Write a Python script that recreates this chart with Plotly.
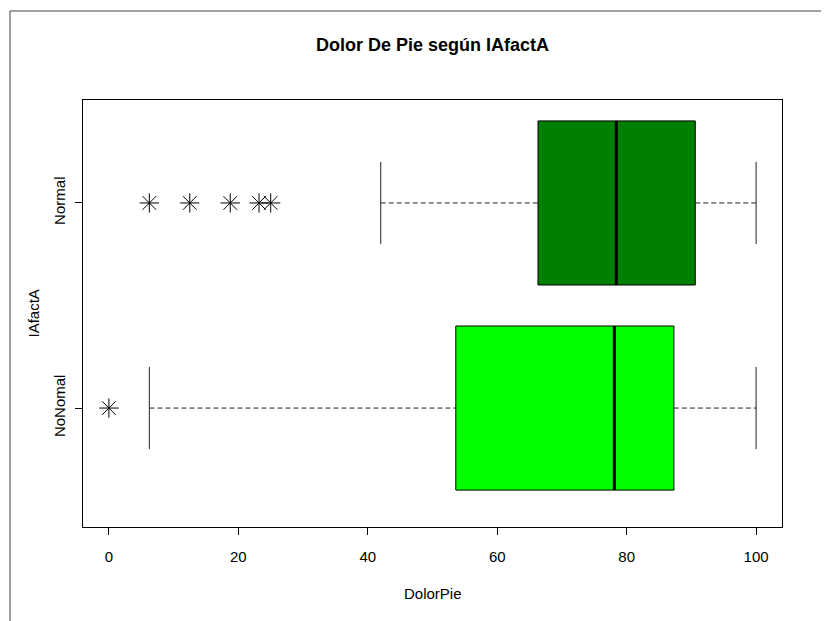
import plotly.graph_objects as go

# ---- data ----
categories = ["NoNomal", "Normal"]
positions = [1, 2]
q1 = [53.6, 66.3]
median = [78.1, 78.4]
q3 = [87.3, 90.6]
whisker_low = [6.25, 42.0]
whisker_high = [100.0, 100.0]
outliers = [[0.0], [6.25, 12.5, 18.75, 23.2, 25.0]]
fill_colors = ["#00FF00", "#008000"]
x_ticks = [0, 20, 40, 60, 80, 100]

BOXW = 0.4   # half box width (R boxwex 0.8)
CAPW = 0.2   # half staple width

# the page body adds an 8px offset; work in page pixels and subtract it
OFF = 8
W_IMG, H_IMG = 829 - OFF, 621 - OFF
L, R, T, B = 83 - OFF, 782 - OFF, 100 - OFF, 527 - OFF
PW, PH = R - L, B - T

fig = go.Figure()

for i, cat in enumerate(categories):
    y = positions[i]
    fig.add_trace(go.Scatter(
        x=[q1[i], q3[i], q3[i], q1[i], q1[i]],
        y=[y - BOXW, y - BOXW, y + BOXW, y + BOXW, y - BOXW],
        mode="lines", fill="toself", fillcolor=fill_colors[i],
        line=dict(color="black", width=1), hoverinfo="skip", showlegend=False))
    fig.add_trace(go.Scatter(
        x=[median[i], median[i]], y=[y - BOXW, y + BOXW],
        mode="lines", line=dict(color="black", width=3),
        hoverinfo="skip", showlegend=False))
    fig.add_trace(go.Scatter(
        x=[whisker_low[i], q1[i], None, q3[i], whisker_high[i]],
        y=[y, y, None, y, y],
        mode="lines", line=dict(color="#222222", width=1, dash="5px,3px"),
        hoverinfo="skip", showlegend=False))
    fig.add_trace(go.Scatter(
        x=[whisker_low[i], whisker_low[i], None, whisker_high[i], whisker_high[i]],
        y=[y - CAPW, y + CAPW, None, y - CAPW, y + CAPW],
        mode="lines", line=dict(color="#222222", width=1),
        hoverinfo="skip", showlegend=False))
    fig.add_trace(go.Scatter(
        x=outliers[i], y=[y] * len(outliers[i]),
        mode="markers",
        marker=dict(symbol="asterisk-open", size=16, color="black",
                    line=dict(color="black", width=1)),
        hoverinfo="skip", showlegend=False))

FONT = "Liberation Sans, Arial, sans-serif"

fig.update_layout(
    width=W_IMG, height=H_IMG, autosize=False,
    margin=dict(l=L, r=W_IMG - R, t=T, b=H_IMG - B, autoexpand=False),
    paper_bgcolor="white", plot_bgcolor="white",
    font=dict(family=FONT, size=15, color="black"),
    xaxis=dict(range=[-4, 104], tickvals=x_ticks, ticks="outside", ticklen=7,
               tickcolor="black", showline=True, mirror=True, linecolor="black",
               linewidth=1, showgrid=False, zeroline=False, automargin=False,
               ticklabelstandoff=9, tickfont=dict(size=15)),
    yaxis=dict(range=[0.42, 2.502], tickvals=positions, ticktext=categories,
               tickangle=-90, ticks="outside", ticklen=7, tickcolor="black",
               showline=True, mirror=True, linecolor="black", linewidth=1,
               showgrid=False, zeroline=False, automargin=False,
               ticklabelstandoff=4, tickfont=dict(size=15)),
    annotations=[
        dict(text="<b>Dolor De Pie según IAfactA</b>", xref="paper", yref="paper",
             x=0.5, y=1 + (100 - 45) / PH, xanchor="center", yanchor="middle",
             showarrow=False, font=dict(family=FONT, size=18, color="black")),
        dict(text="DolorPie", xref="paper", yref="paper",
             x=0.5, y=-(593 - 527) / PH, xanchor="center", yanchor="middle",
             showarrow=False, font=dict(family=FONT, size=15, color="black")),
        dict(text="IAfactA", xref="paper", yref="paper", textangle=-90,
             x=-(83 - 33) / PW, y=0.5, xanchor="center", yanchor="middle",
             showarrow=False, font=dict(family=FONT, size=15, color="black")),
    ],
    shapes=[dict(type="rect", xref="paper", yref="paper",
                 x0=-(83 - 10) / PW, x1=1.2, y0=-0.4, y1=1 + (100 - 11) / PH,
                 line=dict(color="#444444", width=1), fillcolor="rgba(0,0,0,0)",
                 layer="below")],
)

fig.write_html("out.html")
